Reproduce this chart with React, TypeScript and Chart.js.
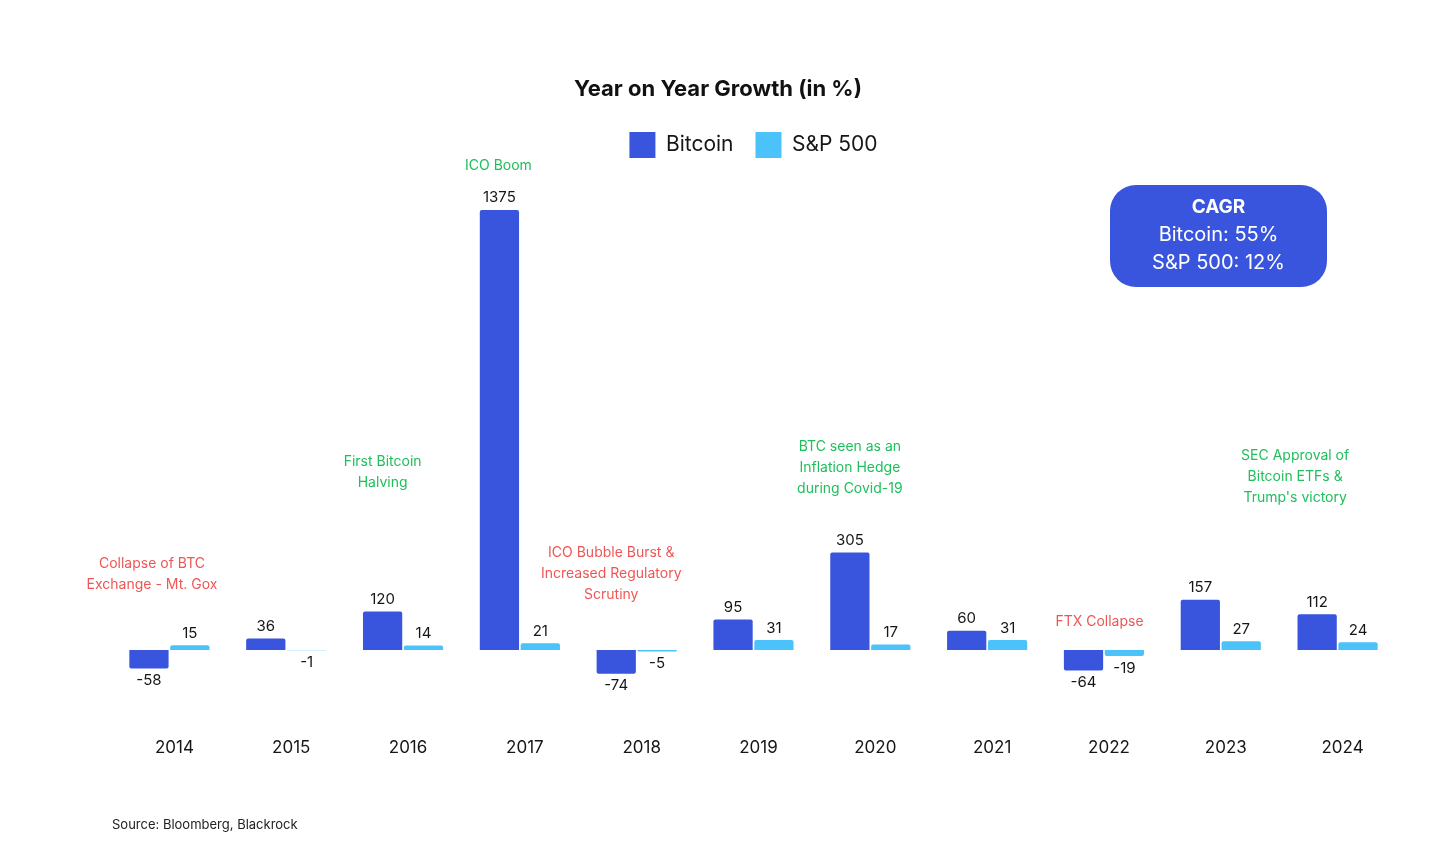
import { useEffect, useRef } from "react";
import { Chart, registerables } from "chart.js";

Chart.register(...registerables);

const years = ["2014", "2015", "2016", "2017", "2018", "2019", "2020", "2021", "2022", "2023", "2024"];
const bitcoinGrowth = [-58, 36, 120, 1375, -74, 95, 305, 60, -64, 157, 112];
const sp500Growth = [15, -1, 14, 21, -5, 31, 17, 31, -19, 27, 24];

const chartTitle = "Year on Year Growth (in %)";
const cagrTitle = "CAGR";
const cagrLines = ["Bitcoin: 55%", "S&P 500: 12%"];

const eventYears = ["2014", "2016", "2017", "2018", "2020", "2022", "2024"];
const eventTexts = [
  ["Collapse of BTC", "Exchange - Mt. Gox"],
  ["First Bitcoin", "Halving"],
  ["ICO Boom"],
  ["ICO Bubble Burst &", "Increased Regulatory", "Scrutiny"],
  ["BTC seen as an", "Inflation Hedge", "during Covid-19"],
  ["FTX Collapse"],
  ["SEC Approval of", "Bitcoin ETFs &", "Trump's victory"],
];
const eventTones = ["neg", "pos", "pos", "neg", "pos", "neg", "pos"];
// placement of the event notes: level (value units) of the last line, horizontal shift in px
const eventLevels = [203, 522, 1512, 172, 503, 87, 475];
const eventShift = [3, 0, -1, -5, 0, 16, -22];

const sourceText = "Source: Bloomberg, Blackrock";

const BTC_COLOR = "#3A55DD";
const SPX_COLOR = "#4BC3FA";
const POS_COLOR = "#1FBF5C";
const NEG_COLOR = "#EF5656";
const FONT = "Inter, 'Noto Sans', sans-serif";

const overlayPlugin = {
  id: "overlay",
  afterDatasetsDraw(chart: any) {
    const ctx = chart.ctx as CanvasRenderingContext2D;
    const yScale = chart.scales.y;
    ctx.save();
    // value labels
    ctx.font = `400 15px ${FONT}`;
    ctx.fillStyle = "#161616";
    ctx.textAlign = "center";
    ctx.textBaseline = "middle";
    chart.data.datasets.forEach((ds: any, di: number) => {
      const meta = chart.getDatasetMeta(di);
      meta.data.forEach((bar: any, i: number) => {
        const v = ds.data[i] as number;
        const y = v >= 0 ? bar.y - 12 : bar.y + 12;
        ctx.fillText(String(v), bar.x, y);
      });
    });
    // event notes
    ctx.font = `400 14px ${FONT}`;
    eventYears.forEach((yr, k) => {
      const idx = years.indexOf(yr);
      const bar = chart.getDatasetMeta(0).data[idx];
      const x = bar.x + eventShift[k];
      const lines = eventTexts[k];
      const yLast = yScale.getPixelForValue(eventLevels[k]);
      ctx.fillStyle = eventTones[k] === "pos" ? POS_COLOR : NEG_COLOR;
      lines.forEach((ln, j) => {
        ctx.fillText(ln, x, yLast - (lines.length - 1 - j) * 21);
      });
    });
    ctx.restore();
  },
  afterDraw(chart: any) {
    const ctx = chart.ctx as CanvasRenderingContext2D;
    ctx.save();
    // title
    ctx.fillStyle = "#111111";
    ctx.textAlign = "center";
    ctx.textBaseline = "middle";
    ctx.font = `700 22px ${FONT}`;
    ctx.fillText(chartTitle, 718, 89);
    // CAGR box
    const bx = 1110, by = 185, bw = 217, bh = 102, r = 26;
    ctx.fillStyle = BTC_COLOR;
    ctx.beginPath();
    ctx.moveTo(bx + r, by);
    ctx.arcTo(bx + bw, by, bx + bw, by + bh, r);
    ctx.arcTo(bx + bw, by + bh, bx, by + bh, r);
    ctx.arcTo(bx, by + bh, bx, by, r);
    ctx.arcTo(bx, by, bx + bw, by, r);
    ctx.closePath();
    ctx.fill();
    ctx.fillStyle = "#ffffff";
    ctx.font = `700 19px ${FONT}`;
    ctx.fillText(cagrTitle, bx + bw / 2, 207);
    ctx.font = `400 20px ${FONT}`;
    cagrLines.forEach((ln, j) => ctx.fillText(ln, bx + bw / 2, 235 + j * 28));
    // source
    ctx.fillStyle = "#222222";
    ctx.textAlign = "left";
    ctx.font = `400 13px ${FONT}`;
    ctx.fillText(sourceText, 112, 825);
    ctx.restore();
  },
};

export default function App() {
  const ref = useRef<HTMLCanvasElement | null>(null);
  useEffect(() => {
    if (!ref.current) return;
    Chart.defaults.font.family = FONT;
    const chart = new Chart(ref.current, {
      type: "bar",
      data: {
        labels: years,
        datasets: [
          {
            label: "Bitcoin",
            data: bitcoinGrowth,
            backgroundColor: BTC_COLOR,
            borderRadius: 2,
            barPercentage: 0.96,
            categoryPercentage: 0.7,
          },
          {
            label: "S&P 500",
            data: sp500Growth,
            backgroundColor: SPX_COLOR,
            borderRadius: 2,
            barPercentage: 0.96,
            categoryPercentage: 0.7,
          },
        ],
      },
      options: {
        animation: false,
        responsive: false,
        maintainAspectRatio: false,
        layout: { padding: { left: 111, right: 60, top: 110, bottom: 80 } },
        plugins: {
          title: { display: false },
          legend: {
            display: true,
            labels: {
              boxWidth: 26,
              boxHeight: 26,
              padding: 22,
              color: "#161616",
              font: { size: 21, family: FONT },
            },
          },
          tooltip: { enabled: false },
        },
        scales: {
          x: {
            grid: { display: false, drawTicks: false },
            border: { display: false },
            ticks: { color: "#161616", font: { size: 17, family: FONT }, padding: 22, labelOffset: 5 },
          },
          y: {
            display: false,
            min: -205,
            max: 1506,
          },
        },
      },
      plugins: [overlayPlugin],
    });
    return () => chart.destroy();
  }, []);
  return (
    <div style={{ position: "absolute", left: 0, top: 0, width: 1456, height: 860, background: "#ffffff" }}>
      <canvas ref={ref} width={1456} height={860} style={{ width: 1456, height: 860 }} />
    </div>
  );
}
